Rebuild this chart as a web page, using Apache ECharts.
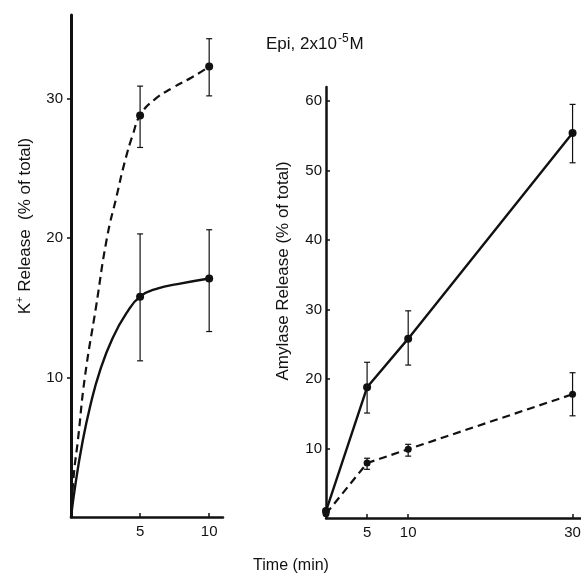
<!DOCTYPE html>
<html>
<head>
<meta charset="utf-8">
<script src="https://cdn.jsdelivr.net/npm/echarts@6/dist/echarts.min.js"></script>
<style>
  html, body { margin: 0; padding: 0; background: #fff; }
  #chart { width: 581px; height: 575px; }
</style>
</head>
<body>
<div id="chart"></div>
<script>
// left panel: K+ release
const kTicksY = [10, 20, 30];
const kTicksX = [5, 10];
const kMarkX = [5, 10];
const kDashY = [28.8, 32.3];
const kDashLo = [26.5, 30.2];
const kDashHi = [30.9, 34.3];
const kSolidY = [15.8, 17.1];
const kSolidLo = [11.2, 13.3];
const kSolidHi = [20.3, 20.6];
// hand-drawn curves
const kDashCurveX = [0, 0.2, 0.5, 1.0, 1.8, 2.6, 3.3, 3.9, 4.5, 5, 6, 7.4, 8.7, 10];
const kDashCurveY = [0, 3, 5.5, 10, 15, 20, 23, 25.5, 27.5, 28.8, 29.9, 30.8, 31.5, 32.3];
const kSolidCurveX = [0, 0.3, 0.8, 1.4, 2.1, 3.0, 4.0, 5, 6.3, 7.7, 10];
const kSolidCurveY = [0, 2.2, 5.2, 8, 10.5, 12.8, 14.6, 15.8, 16.4, 16.7, 17.1];

// right panel: amylase release
const amyTicksY = [10, 20, 30, 40, 50, 60];
const amyTicksX = [5, 10, 30];
const amyTime = [0, 5, 10, 30];
const amySolid = [1, 18.8, 25.8, 55.4];
const amySolidLo = [null, 15.1, 22.0, 51.1];
const amySolidHi = [null, 22.4, 29.8, 59.5];
const amyDash = [0.6, 7.9, 9.9, 17.8];
const amyDashLo = [null, 7.0, 8.9, 14.7];
const amyDashHi = [null, 8.6, 10.6, 20.9];

const FONT = 'Liberation Sans';
const INK = '#111';

function zip(xs, ys) {
  return xs.map((x, i) => [x, ys[i]]);
}

function errData(xs, lo, hi) {
  return xs.map((x, i) => [x, lo[i], hi[i]]).filter(d => d[1] != null);
}

function errItem(params, api) {
  const x = api.value(0);
  const top = api.coord([x, api.value(2)]);
  const bot = api.coord([x, api.value(1)]);
  const w = 3;
  const st = { stroke: INK, lineWidth: 1.2 };
  return {
    type: 'group',
    children: [
      { type: 'line', shape: { x1: top[0], y1: top[1], x2: bot[0], y2: bot[1] }, style: st },
      { type: 'line', shape: { x1: top[0] - w, y1: top[1], x2: top[0] + w, y2: top[1] }, style: st },
      { type: 'line', shape: { x1: bot[0] - w, y1: bot[1], x2: bot[0] + w, y2: bot[1] }, style: st }
    ]
  };
}

function valueAxis(idx, min, max, ticks, opts) {
  return Object.assign({
    type: 'value',
    gridIndex: idx,
    min: min,
    max: max,
    splitLine: { show: false },
    axisLine: { show: true, onZero: false, lineStyle: { color: INK, width: 2.5 } },
    axisTick: { show: true, customValues: ticks, length: 4, lineStyle: { color: INK, width: 1.5 } },
    axisLabel: { customValues: ticks, color: INK, fontFamily: FONT, fontSize: 15 }
  }, opts || {});
}

const chart = echarts.init(document.getElementById('chart'));

chart.setOption({
  backgroundColor: '#fff',
  animation: false,
  grid: [
    { left: 71, top: 15, width: 152, height: 502, outerBoundsMode: 'none' },
    { left: 326, top: 87, width: 263, height: 431, outerBoundsMode: 'none' }
  ],
  xAxis: [
    valueAxis(0, 0, 11, kTicksX, {
      axisTick: { show: true, inside: true, customValues: kTicksX, length: 4, lineStyle: { color: INK, width: 1.5 } },
      axisLabel: { customValues: kTicksX, color: INK, fontFamily: FONT, fontSize: 15, margin: 7 }
    }),
    valueAxis(1, 0, 32, amyTicksX, {
      axisTick: { show: true, inside: true, customValues: amyTicksX, length: 4, lineStyle: { color: INK, width: 1.5 } },
      axisLabel: { customValues: amyTicksX, color: INK, fontFamily: FONT, fontSize: 15, margin: 7 }
    })
  ],
  yAxis: [
    valueAxis(0, 0, 36, kTicksY, {
      axisLine: { show: true, onZero: false, lineStyle: { color: INK, width: 3 } },
      axisLabel: { customValues: kTicksY, color: INK, fontFamily: FONT, fontSize: 15, margin: 8 }
    }),
    valueAxis(1, 0, 62, amyTicksY, {
      axisTick: { show: true, inside: true, customValues: amyTicksY, length: 4, lineStyle: { color: INK, width: 1.5 } },
      axisLabel: { customValues: amyTicksY, color: INK, fontFamily: FONT, fontSize: 15, margin: 4 }
    })
  ],
  series: [
    {
      type: 'line', xAxisIndex: 0, yAxisIndex: 0, smooth: 0.5, showSymbol: false,
      data: zip(kDashCurveX, kDashCurveY),
      lineStyle: { color: INK, width: 2.2, type: [8, 5] }
    },
    {
      type: 'line', xAxisIndex: 0, yAxisIndex: 0, smooth: 0.5, showSymbol: false,
      data: zip(kSolidCurveX, kSolidCurveY),
      lineStyle: { color: INK, width: 2.4 }
    },
    {
      type: 'scatter', xAxisIndex: 0, yAxisIndex: 0, symbolSize: 8,
      itemStyle: { color: INK, opacity: 1 }, data: zip(kMarkX, kDashY)
    },
    {
      type: 'scatter', xAxisIndex: 0, yAxisIndex: 0, symbolSize: 8,
      itemStyle: { color: INK, opacity: 1 }, data: zip(kMarkX, kSolidY)
    },
    {
      type: 'custom', xAxisIndex: 0, yAxisIndex: 0, renderItem: errItem,
      data: errData(kMarkX, kDashLo, kDashHi)
    },
    {
      type: 'custom', xAxisIndex: 0, yAxisIndex: 0, renderItem: errItem,
      data: errData(kMarkX, kSolidLo, kSolidHi)
    },
    {
      type: 'line', xAxisIndex: 1, yAxisIndex: 1, symbol: 'circle', symbolSize: 8,
      data: zip(amyTime, amySolid),
      itemStyle: { color: INK }, lineStyle: { color: INK, width: 2.4 }
    },
    {
      type: 'line', xAxisIndex: 1, yAxisIndex: 1, symbol: 'circle', symbolSize: 7,
      data: zip(amyTime, amyDash),
      itemStyle: { color: INK }, lineStyle: { color: INK, width: 2.2, type: [8, 5] }
    },
    {
      type: 'custom', xAxisIndex: 1, yAxisIndex: 1, renderItem: errItem,
      data: errData(amyTime, amySolidLo, amySolidHi)
    },
    {
      type: 'custom', xAxisIndex: 1, yAxisIndex: 1, renderItem: errItem,
      data: errData(amyTime, amyDashLo, amyDashHi)
    }
  ],
  graphic: [
    {
      type: 'text', x: 266, y: 43,
      style: {
        text: '{a|Epi, 2x10}{s|-5}{a|M}',
        verticalAlign: 'middle',
        rich: {
          a: { fontFamily: FONT, fontSize: 17, fill: INK, verticalAlign: 'bottom' },
          s: { fontFamily: FONT, fontSize: 12, fill: INK, verticalAlign: 'top', padding: [0, 1, 8, 1] }
        }
      }
    },
    {
      type: 'text', x: 25, y: 226, rotation: Math.PI / 2,
      style: {
        text: '{a|K}{s|+}{a| Release  (% of total)}',
        align: 'center', verticalAlign: 'middle',
        rich: {
          a: { fontFamily: FONT, fontSize: 17, fill: INK },
          s: { fontFamily: FONT, fontSize: 11, fill: INK, padding: [0, 0, 10, 0] }
        }
      }
    },
    {
      type: 'text', x: 283, y: 271, rotation: Math.PI / 2,
      style: {
        text: 'Amylase Release (% of total)',
        align: 'center', verticalAlign: 'middle',
        fontFamily: FONT, fontSize: 17, fill: INK
      }
    },
    {
      type: 'text', x: 291, y: 566,
      style: {
        text: 'Time (min)',
        align: 'center', verticalAlign: 'middle',
        fontFamily: FONT, fontSize: 16, fill: INK
      }
    }
  ]
});
</script>
</body>
</html>
